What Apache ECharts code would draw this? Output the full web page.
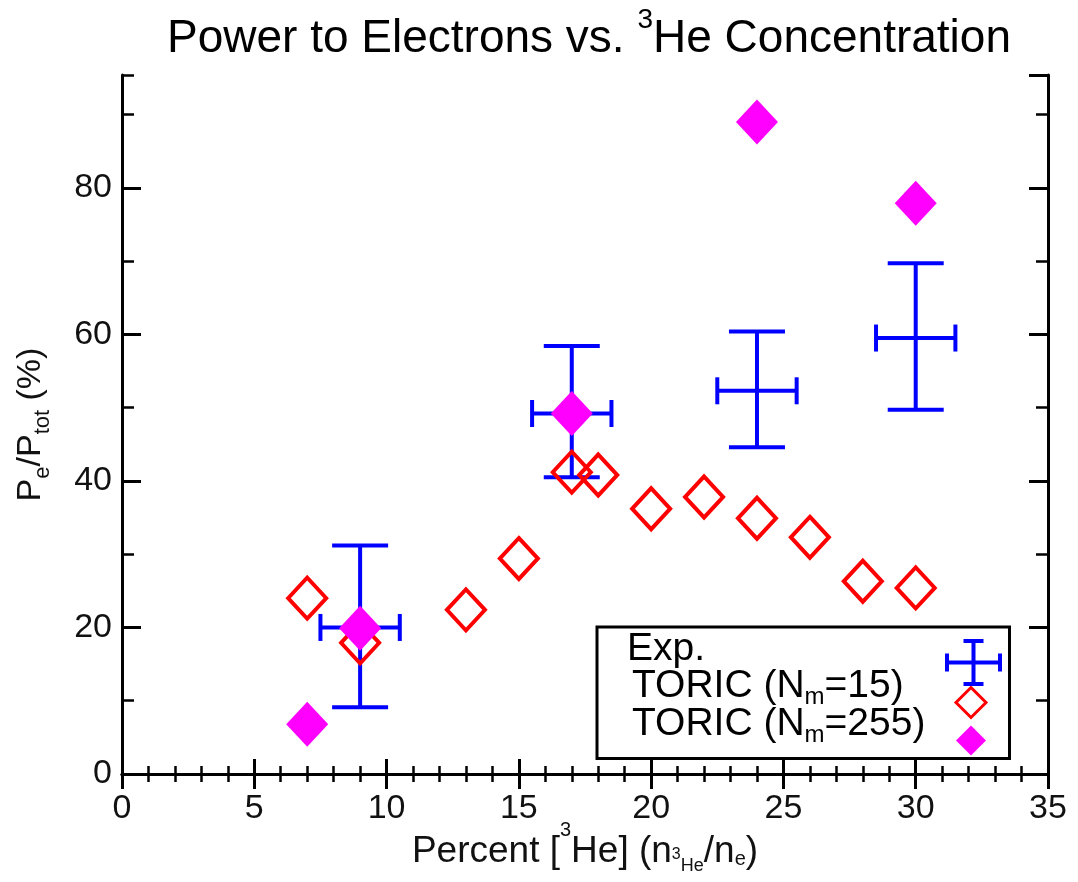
<!DOCTYPE html>
<html>
<head>
<meta charset="utf-8">
<title>Power to Electrons vs. 3He Concentration</title>
<script src="https://cdn.jsdelivr.net/npm/echarts@6.0.0/dist/echarts.min.js"></script>
<style>
  html, body { margin: 0; padding: 0; background: #fff; }
  #chart { width: 1078px; height: 882px; }
</style>
</head>
<body>
<div id="chart"></div>
<script>
// measured data (percent 3He vs Pe/Ptot)
var expX = [9, 17, 24, 30];
var expY = [20.0, 49.2, 52.3, 59.5];
var expXErr = [1.5, 1.5, 1.5, 1.5];
var expYLow = [9.1, 40.5, 44.6, 49.7];
var expYHigh = [31.2, 58.4, 60.4, 69.7];

// TORIC, Nm = 15
var toric15X = [7, 9, 13, 15, 17, 18, 20, 22, 24, 26, 28, 30];
var toric15Y = [24.0, 17.9, 22.4, 29.4, 41.2, 40.8, 36.2, 37.8, 34.9, 32.3, 26.3, 25.4];

// TORIC, Nm = 255
var toric255X = [7, 9, 17, 24, 30];
var toric255Y = [6.8, 19.9, 49.2, 89.0, 77.9];

// axes
var xMin = 0, xMax = 35, xStep = 5;
var yMin = 0, yMax = 95.4, yStep = 20, yMinorStep = 10;

var FONT = 'Liberation Sans, Arial, sans-serif';

function pairs(xs, ys) {
  return xs.map(function (x, i) { return [x, ys[i]]; });
}

var expData = expX.map(function (x, i) {
  return [x, expY[i], expXErr[i], expYLow[i], expYHigh[i]];
});

// error bar cross: vertical bar with wide caps, horizontal bar with short caps
function renderErrorBar(params, api) {
  var x = api.value(0), y = api.value(1), xe = api.value(2);
  var lo = api.coord([x, api.value(3)]);
  var hi = api.coord([x, api.value(4)]);
  var l = api.coord([x - xe, y]);
  var r = api.coord([x + xe, y]);
  var st = { stroke: '#0000ff', lineWidth: 4 };
  var vCap = 28, hCap = 13.5;
  return {
    type: 'group',
    children: [
      { type: 'line', shape: { x1: lo[0], y1: lo[1], x2: hi[0], y2: hi[1] }, style: st },
      { type: 'line', shape: { x1: lo[0] - vCap, y1: lo[1], x2: lo[0] + vCap, y2: lo[1] }, style: st },
      { type: 'line', shape: { x1: hi[0] - vCap, y1: hi[1], x2: hi[0] + vCap, y2: hi[1] }, style: st },
      { type: 'line', shape: { x1: l[0], y1: l[1], x2: r[0], y2: r[1] }, style: st },
      { type: 'line', shape: { x1: l[0], y1: l[1] - hCap, x2: l[0], y2: l[1] + hCap }, style: st },
      { type: 'line', shape: { x1: r[0], y1: r[1] - hCap, x2: r[0], y2: r[1] + hCap }, style: st }
    ]
  };
}

// legend icon for Exp. (57x47 box)
var crossIcon = 'path://M0,21.5h57v4h-57z M0,14.5h4v18h-4z M53,14.5h4v18h-4z ' +
  'M26.5,0h4v47h-4z M18.5,0h20v4h-20z M18.5,43h20v4h-20z';

var legendNames = {
  'TORIC15': '{t|TORIC (N}{sub|m}{t|=15)}',
  'TORIC255': '{t|TORIC (N}{sub|m}{t|=255)}'
};

var axisLineStyle = { color: '#000', width: 3 };
var labelStyle = { fontSize: 34, color: '#111', fontFamily: FONT };

// sub/superscripts are shifted with token padding (middle aligned)
function shifted(size, dy, color) {
  return {
    fontSize: size, fontFamily: FONT, color: color || '#111',
    padding: dy > 0 ? [dy * 2, 0, 0, 0] : [0, 0, -dy * 2, 0]
  };
}

var option = {
  animation: false,
  backgroundColor: '#fff',
  textStyle: { fontFamily: FONT },
  title: {
    text: 'Power to Electrons vs. {sup|3}He Concentration',
    left: 589,
    top: 16,
    padding: 0,
    textAlign: 'center',
    textStyle: {
      fontSize: 46, fontWeight: 'normal', color: '#000', fontFamily: FONT, lineHeight: 46,
      rich: {
        sup: shifted(28, -18.5, '#000')
      }
    }
  },
  grid: { left: 122, right: 30, top: 75, bottom: 108, containLabel: false, outerBoundsMode: 'none' },
  legend: [
    {
      // Exp. entry
      data: [{ name: 'Exp.', icon: crossIcon }],
      left: 627, top: 630, padding: 0,
      orient: 'vertical', align: 'right',
      itemWidth: 57, itemHeight: 47,
      selectedMode: false, z: 10,
      formatter: '{t|Exp.}',
      textStyle: {
        fontSize: 39, color: '#000', fontFamily: FONT, width: 313, lineHeight: 30,
        padding: [-13, 0, 13, 0],
        rich: { t: { fontSize: 39, fontFamily: FONT, color: '#000', align: 'left', lineHeight: 30 } }
      }
    },
    {
      // TORIC entries, this one carries the frame
      data: [{ name: 'TORIC15', itemStyle: { borderWidth: 3 } }, { name: 'TORIC255' }],
      left: 597, top: 627, padding: [40, 22, 3, 35],
      orient: 'vertical', align: 'right',
      itemWidth: 30, itemHeight: 30, itemGap: -14,
      borderColor: '#000', borderWidth: 3, backgroundColor: 'transparent',
      selectedMode: false, z: 5,
      formatter: function (name) { return legendNames[name]; },
      textStyle: {
        fontSize: 39, color: '#000', fontFamily: FONT, width: 319, lineHeight: 30,
        padding: [-16, 0, 16, 0],
        rich: {
          t: { fontSize: 39, fontFamily: FONT, color: '#000', align: 'left', lineHeight: 30 },
          sub: Object.assign({ align: 'left' }, shifted(24, 10.5, '#000'))
        }
      }
    }
  ],
  xAxis: [
    {
      type: 'value', position: 'bottom', min: xMin, max: xMax, interval: xStep,
      axisLine: { show: true, lineStyle: axisLineStyle },
      axisTick: { show: true, inside: true, length: 15, lineStyle: { color: '#000', width: 3 } },
      minorTick: { show: true, splitNumber: 5, length: 8, lineStyle: { color: '#000', width: 2.5 } },
      axisLabel: Object.assign({ margin: 18, lineHeight: 34 }, labelStyle),
      splitLine: { show: false },
      name: 'Percent [{sup|3}He] (n{s3|3}{sub|He}/n{se|e})',
      nameLocation: 'middle', nameGap: 58, nameMoveOverlap: false,
      nameTextStyle: {
        fontSize: 37, color: '#111', fontFamily: FONT, lineHeight: 40,
        rich: {
          sup: shifted(20, -22),
          s3: shifted(16, 2.5),
          sub: shifted(18, 14),
          se: shifted(20, 7.5)
        }
      }
    },
    {
      type: 'value', position: 'top', min: xMin, max: xMax, interval: xStep,
      axisLine: { show: true, lineStyle: axisLineStyle },
      axisTick: { show: true, inside: true, length: 15, lineStyle: { color: '#000', width: 3 } },
      minorTick: { show: true, splitNumber: 5, length: 8, lineStyle: { color: '#000', width: 2.5 } },
      axisLabel: { show: false },
      splitLine: { show: false }
    }
  ],
  yAxis: [
    {
      type: 'value', position: 'left', min: yMin, max: yMax, interval: yStep,
      axisLine: { show: true, lineStyle: axisLineStyle },
      axisTick: { show: true, inside: true, length: 19, lineStyle: { color: '#000', width: 3 } },
      axisLabel: Object.assign({ margin: 10, showMaxLabel: false }, labelStyle),
      splitLine: { show: false },
      name: 'P{sub|e}/P{sub|tot} (%)',
      nameLocation: 'middle', nameGap: 67, nameRotate: 90, nameMoveOverlap: false,
      nameTextStyle: {
        fontSize: 34, color: '#111', fontFamily: FONT, lineHeight: 48,
        rich: {
          sub: shifted(22, 11.5)
        }
      }
    },
    {
      // minor ticks every 10 on the left
      type: 'value', position: 'left', min: yMin, max: yMax, interval: yMinorStep,
      axisLine: { show: false },
      axisTick: { show: true, inside: true, length: 12, lineStyle: { color: '#000', width: 2.5 } },
      axisLabel: { show: false },
      splitLine: { show: false }
    },
    {
      type: 'value', position: 'right', min: yMin, max: yMax, interval: yStep,
      axisLine: { show: true, lineStyle: axisLineStyle },
      axisTick: { show: true, inside: true, length: 19, lineStyle: { color: '#000', width: 3 } },
      axisLabel: { show: false },
      splitLine: { show: false }
    },
    {
      type: 'value', position: 'right', min: yMin, max: yMax, interval: yMinorStep,
      axisLine: { show: false },
      axisTick: { show: true, inside: true, length: 12, lineStyle: { color: '#000', width: 2.5 } },
      axisLabel: { show: false },
      splitLine: { show: false }
    }
  ],
  series: [
    {
      name: 'Exp.',
      type: 'custom',
      xAxisIndex: 0, yAxisIndex: 0,
      itemStyle: { color: '#0000ff' },
      encode: { x: 0, y: 1 },
      renderItem: renderErrorBar,
      data: expData
    },
    {
      name: 'TORIC15',
      type: 'scatter',
      xAxisIndex: 0, yAxisIndex: 0,
      symbol: 'diamond',
      symbolSize: [38, 41],
      itemStyle: { color: 'rgba(0,0,0,0)', borderColor: '#ff0000', borderWidth: 4, opacity: 1 },
      data: pairs(toric15X, toric15Y)
    },
    {
      name: 'TORIC255',
      type: 'scatter',
      xAxisIndex: 0, yAxisIndex: 0,
      symbol: 'diamond',
      symbolSize: [42, 45],
      itemStyle: { color: '#ff00ff', opacity: 1 },
      data: pairs(toric255X, toric255Y)
    }
  ]
};

var myChart = echarts.init(document.getElementById('chart'));
myChart.setOption(option);
</script>
</body>
</html>
